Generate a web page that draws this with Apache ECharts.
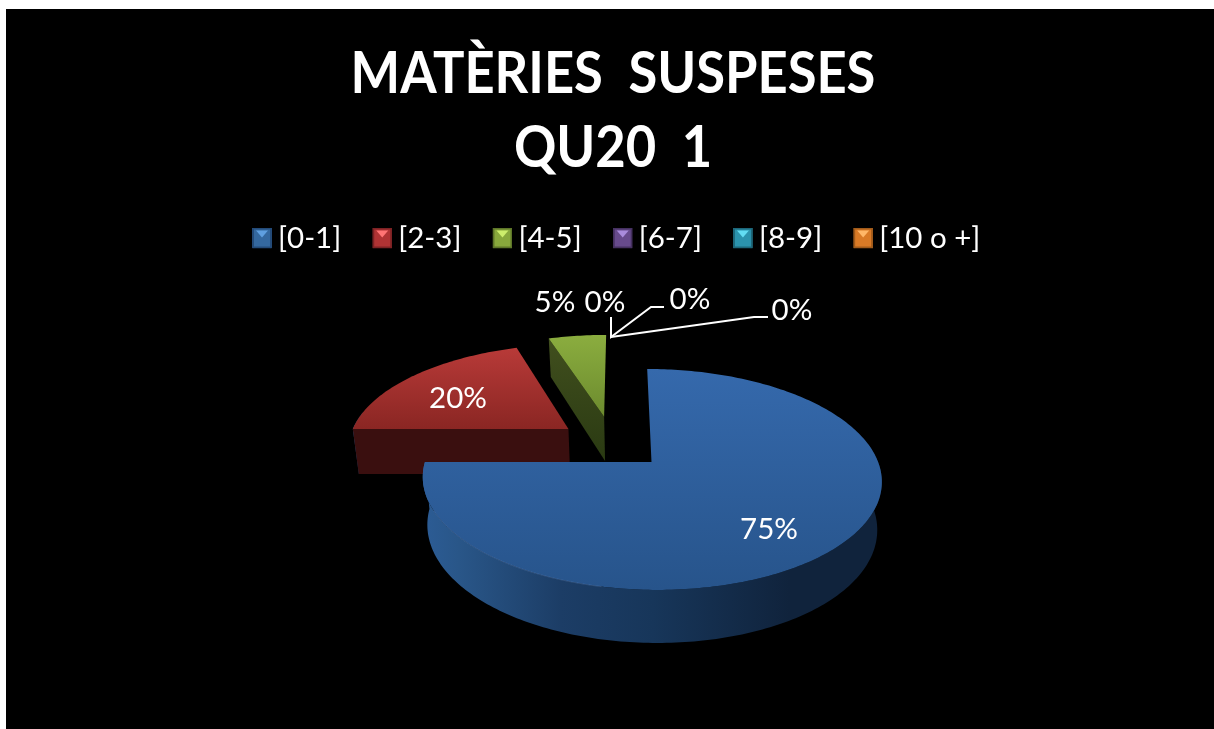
<!DOCTYPE html>
<html>
<head>
<meta charset="utf-8">
<style>
  html, body { margin: 0; padding: 0; background: #fff; }
  #main { width: 1214px; height: 729px; }
</style>
<script src="https://cdn.jsdelivr.net/npm/echarts@6/dist/echarts.min.js"></script>
</head>
<body>
<div id="main"></div>
<script>
const chartTitle = 'MATÈRIES  SUSPESES\nQU20  1';
const categories = ['[0-1]', '[2-3]', '[4-5]', '[6-7]', '[8-9]', '[10 o +]'];
const values = [75, 20, 5, 0, 0, 0];
const iconBase = ['#34689f', '#b03334', '#88a83c', '#674a8c', '#2b93ad', '#d97a26'];
const iconLight = ['#5f9fe0', '#ff7474', '#cdee6c', '#a98bdc', '#62dcf2', '#ffb768'];
const iconDark = ['#234a78', '#7c2224', '#5d7528', '#453060', '#1c6679', '#a05a1a'];
const topColors = [['#3569ac', '#27548b'], ['#b83a38', '#8a2623'], ['#8bad3f', '#6c8b2e']];

const FONT = 'Lato, Carlito, sans-serif';
const total = values.reduce((a, b) => a + b, 0);

// proyeccion del pastel: circulo unidad con perspectiva
const PIE = { cx: 651.5, cy: 462, rx: 226.6, ry: 107.7, k: 0.158, shear: 5 };
const EXPLODE = [[0, 0], [-0.378, -0.322], [-0.214, -0.45]];
const LABEL_POS = [[769, 529], [458, 398], [555, 302], [605, 302], [690, 299], [792, 310]];

function project(u, v, deep) {
  const w = 1 - PIE.k * v;
  let x = PIE.cx + (PIE.rx * u + PIE.shear * v) / w;
  let y = PIE.cy + PIE.ry * v / w;
  if (deep) {
    x = PIE.cx + (x - PIE.cx) * 0.98;
    y += 47 + 6 * v;
  }
  return [x, y];
}

function arcPoints(off, from, to, deep) {
  const pts = [];
  const steps = Math.max(2, Math.ceil(to - from));
  for (let i = 0; i <= steps; i++) {
    const a = (from + (to - from) * i / steps) * Math.PI / 180;
    pts.push(project(off[0] + Math.sin(a), off[1] - Math.cos(a), deep));
  }
  return pts;
}

function renderSlice(idx) {
  const before = values.slice(0, idx).reduce((a, b) => a + b, 0);
  const start = before / total * 360;
  const end = (before + values[idx]) / total * 360;
  const children = [];

  if (values[idx] > 0) {
    const off = EXPLODE[idx];
    const c = topColors[idx];
    const wallFront = Math.max(start, 80);
    const wallBack = Math.min(end, 280);
    // pared exterior, solo la mitad que mira al frente
    if (wallBack > wallFront) {
      children.push({
        type: 'polygon',
        shape: { points: arcPoints(off, wallFront, wallBack, false).concat(arcPoints(off, wallFront, wallBack, true).reverse()) },
        style: {
          fill: {
            type: 'linear', x: 0, y: 0, x2: 1, y2: 0,
            colorStops: [
              { offset: 0, color: '#2c5c95' }, { offset: 0.08, color: '#295688' },
              { offset: 0.3, color: '#1c3d66' }, { offset: 0.5, color: '#17365a' },
              { offset: 0.8, color: '#10233c' }, { offset: 1, color: '#10233c' }
            ]
          }
        }
      });
    }
    // pared radial del inicio del sector
    if (start > 180) {
      const a = start * Math.PI / 180;
      const rim = [off[0] + Math.sin(a), off[1] - Math.cos(a)];
      children.push({
        type: 'polygon',
        shape: { points: [project(off[0], off[1]), project(rim[0], rim[1]), project(rim[0], rim[1], true), project(off[0], off[1], true)] },
        style: { fill: idx === 1 ? '#3a0f0f' : { type: 'linear', x: 0, y: 0, x2: 0, y2: 1, colorStops: [{ offset: 0, color: '#414f1e' }, { offset: 1, color: '#2a3a12' }] } }
      });
    }
    children.push({
      type: 'polygon',
      shape: { points: [project(off[0], off[1])].concat(arcPoints(off, start, end, false)) },
      style: { fill: { type: 'linear', x: 0, y: 0, x2: 0, y2: 1, colorStops: [{ offset: 0, color: c[0] }, { offset: 1, color: c[1] }] } }
    });
    // brillo fino del borde delantero
    if (idx === 0) {
      children.push({
        type: 'polyline',
        shape: { points: arcPoints(off, 192, 245, false) },
        style: { stroke: 'rgba(130,175,235,0.22)', lineWidth: 1, fill: null }
      });
    }
  }

  children.push({
    type: 'text',
    style: {
      text: Math.round(values[idx] / total * 100) + '%',
      x: LABEL_POS[idx][0], y: LABEL_POS[idx][1],
      fill: '#fff', fontSize: 29.5, fontFamily: FONT,
      align: 'center', verticalAlign: 'middle'
    }
  });
  return { type: 'group', children };
}

function bevelIcon(i) {
  const svg = '<svg xmlns="http://www.w3.org/2000/svg" width="20" height="21">' +
    '<rect width="20" height="21" rx="1" fill="' + iconDark[i] + '"/>' +
    '<rect x="2" y="2" width="16" height="17" fill="' + iconBase[i] + '"/>' +
    '<polygon points="4,3 16,3 10,10" fill="' + iconLight[i] + '"/></svg>';
  return 'image://data:image/svg+xml;charset=utf-8,' + encodeURIComponent(svg);
}

const chart = echarts.init(document.getElementById('main'));
chart.setOption({
  animation: false,
  backgroundColor: '#fff',
  legend: {
    left: 247, top: 218, itemWidth: 20, itemHeight: 21, itemGap: 31, selectedMode: false,
    data: categories.map((name, i) => ({ name, icon: bevelIcon(i) })),
    textStyle: { color: '#fff', fontFamily: FONT, fontSize: 29.5, padding: [0, 0, 0, 1] }
  },
  graphic: [
    { type: 'rect', z: -10, silent: true, shape: { x: 6, y: 9, width: 1208, height: 720 }, style: { fill: '#000' } },
    // titulo: mas estrecho que Lato, como el original
    {
      type: 'text', z: 10, silent: true, x: 613, y: 111, scaleX: 0.905,
      style: { text: chartTitle, fill: '#fff', fontFamily: FONT, fontWeight: 'bold', fontSize: 58, lineHeight: 74, align: 'center', verticalAlign: 'middle' }
    },
    // lineas guia de las etiquetas en 0%
    { type: 'polyline', z: 10, silent: true, shape: { points: [[611, 317], [611, 337], [651, 307], [664, 307]] }, style: { stroke: '#fff', lineWidth: 2, fill: null } },
    { type: 'polyline', z: 10, silent: true, shape: { points: [[611, 337], [754, 317], [768, 317]] }, style: { stroke: '#fff', lineWidth: 2, fill: null } }
  ],
  series: categories.map((name, i) => ({
    type: 'custom',
    name,
    coordinateSystem: 'none',
    silent: true,
    z: [5, 4, 3, 6, 6, 6][i],
    data: [values[i]],
    renderItem: () => renderSlice(i)
  }))
});
</script>
</body>
</html>
